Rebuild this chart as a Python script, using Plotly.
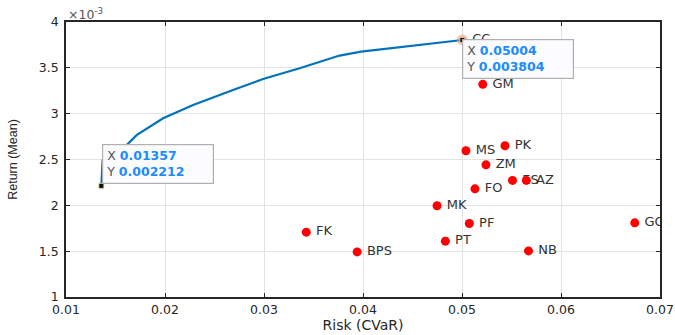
import plotly.graph_objects as go

# Efficient frontier (risk = CVaR, return = mean)
frontier_risk = [0.01357, 0.0137, 0.01595, 0.01713, 0.01981, 0.02284, 0.02687,
                 0.02990, 0.03360, 0.03763, 0.03982, 0.05004]
frontier_ret = [0.002212, 0.002493, 0.002639, 0.002766, 0.002949, 0.003094,
                0.003258, 0.003378, 0.003495, 0.003634, 0.003676, 0.003804]

# Individual assets
assets = ["CC", "GM", "MS", "PK", "ZM", "ES", "AZ", "FO", "MK", "PF", "PT",
          "BPS", "NB", "GO", "FK"]
asset_risk = [0.05004, 0.0521, 0.0504, 0.05434, 0.05242, 0.0551, 0.0565,
              0.05131, 0.04748, 0.05074, 0.04832, 0.03941, 0.05672, 0.06745,
              0.03427]
asset_ret = [0.003804, 0.00332, 0.002595, 0.00265, 0.002442, 0.002272,
             0.002272, 0.00218, 0.001995, 0.001802, 0.001609, 0.001492,
             0.001503, 0.001809, 0.001707]

x_ticks = [0.01, 0.02, 0.03, 0.04, 0.05, 0.06, 0.07]
y_ticks = [0.001, 0.0015, 0.002, 0.0025, 0.003, 0.0035, 0.004]
y_tick_text = ["1", "1.5", "2", "2.5", "3", "3.5", "4"]

# Data tips
tip_points = [(0.01357, 0.002212), (0.05004, 0.003804)]

FONT = "DejaVu Sans, Verdana, sans-serif"
NARROW = "Liberation Sans, Arial, sans-serif"
AX = "#262626"

fig = go.Figure()

# labels first so that neighbouring markers sit on top of them
label_marker = dict(size=14, opacity=0)
fig.add_trace(go.Scatter(
    x=asset_risk, y=asset_ret, mode="markers+text", text=assets,
    textposition="middle right", marker=label_marker,
    textfont=dict(family=FONT, size=13, color="#333333"),
    hoverinfo="skip", showlegend=False))

fig.add_trace(go.Scatter(
    x=asset_risk[1:], y=asset_ret[1:], mode="markers",
    marker=dict(color="#ff0000", size=9, line=dict(width=0)),
    showlegend=False))

fig.add_trace(go.Scatter(
    x=frontier_risk, y=frontier_ret, mode="lines",
    line=dict(color="#0072BD", width=2.2), showlegend=False))

# highlighted data-tip markers
fig.add_trace(go.Scatter(
    x=[tip_points[1][0]], y=[tip_points[1][1]], mode="markers",
    marker=dict(color="rgba(255,140,110,0.55)", size=11, line=dict(width=0)),
    showlegend=False))
fig.add_trace(go.Scatter(
    x=[p[0] for p in tip_points], y=[p[1] for p in tip_points], mode="markers",
    marker=dict(color="#111111", size=5, symbol="square",
                line=dict(color="#e8d9a0", width=0.8)),
    showlegend=False))

def tip_text(x, y):
    return ("<span style='color:#555555'>X</span> "
            f"<b><span style='color:#1a8cff'>{x:.5f}</span></b><br>"
            "<span style='color:#555555'>Y</span> "
            f"<b><span style='color:#1a8cff'>{y:.6f}</span></b>")

tip_style = dict(showarrow=False, align="left", xref="x", yref="y",
                 font=dict(family=FONT, size=12.5),
                 bgcolor="rgba(252,252,255,0.97)", bordercolor="#b0b0b0",
                 borderwidth=1.2, borderpad=3, width=104)
fig.add_annotation(
    x=tip_points[0][0], y=tip_points[0][1], text=tip_text(*tip_points[0]),
    xanchor="left", yanchor="bottom", xshift=1, yshift=2, **tip_style)
fig.add_annotation(
    x=tip_points[1][0], y=tip_points[1][1], text=tip_text(*tip_points[1]),
    xanchor="left", yanchor="top", xshift=0, yshift=1, **tip_style)

# exponent label
fig.add_annotation(
    x=0, y=1, xref="paper", yref="paper", xanchor="left", yanchor="bottom",
    text="×10<sup>-3</sup>", showarrow=False, yshift=-2,
    font=dict(family=FONT, size=12.5, color="#555555"))

fig.update_xaxes(
    range=[0.01, 0.07], tickvals=x_ticks, ticktext=[f"{v:g}" for v in x_ticks],
    showgrid=True, gridcolor="#e3e3e3", gridwidth=1, zeroline=False,
    showline=True, linecolor=AX, linewidth=1.5, mirror="allticks",
    ticks="inside", ticklen=4, tickcolor=AX, automargin=False,
    tickfont=dict(family=FONT, size=12.5, color=AX),
    title=dict(text="Risk (CVaR)", font=dict(family=FONT, size=14, color=AX),
               standoff=0))
fig.update_yaxes(
    range=[0.001, 0.004], tickvals=y_ticks, ticktext=y_tick_text,
    showgrid=True, gridcolor="#e3e3e3", gridwidth=1, zeroline=False,
    showline=True, linecolor=AX, linewidth=1.5, mirror="allticks",
    ticks="inside", ticklen=4, tickcolor=AX, automargin=False,
    ticklabelstandoff=3,
    tickfont=dict(family=FONT, size=12.5, color=AX),
    title=dict(text="Return (Mean)", font=dict(family=NARROW, size=12.5, color=AX),
               standoff=18))

fig.update_layout(
    width=675, height=335, margin=dict(l=66, r=15, t=22, b=38),
    paper_bgcolor="white", plot_bgcolor="white", showlegend=False)

fig.write_html("out.html")
